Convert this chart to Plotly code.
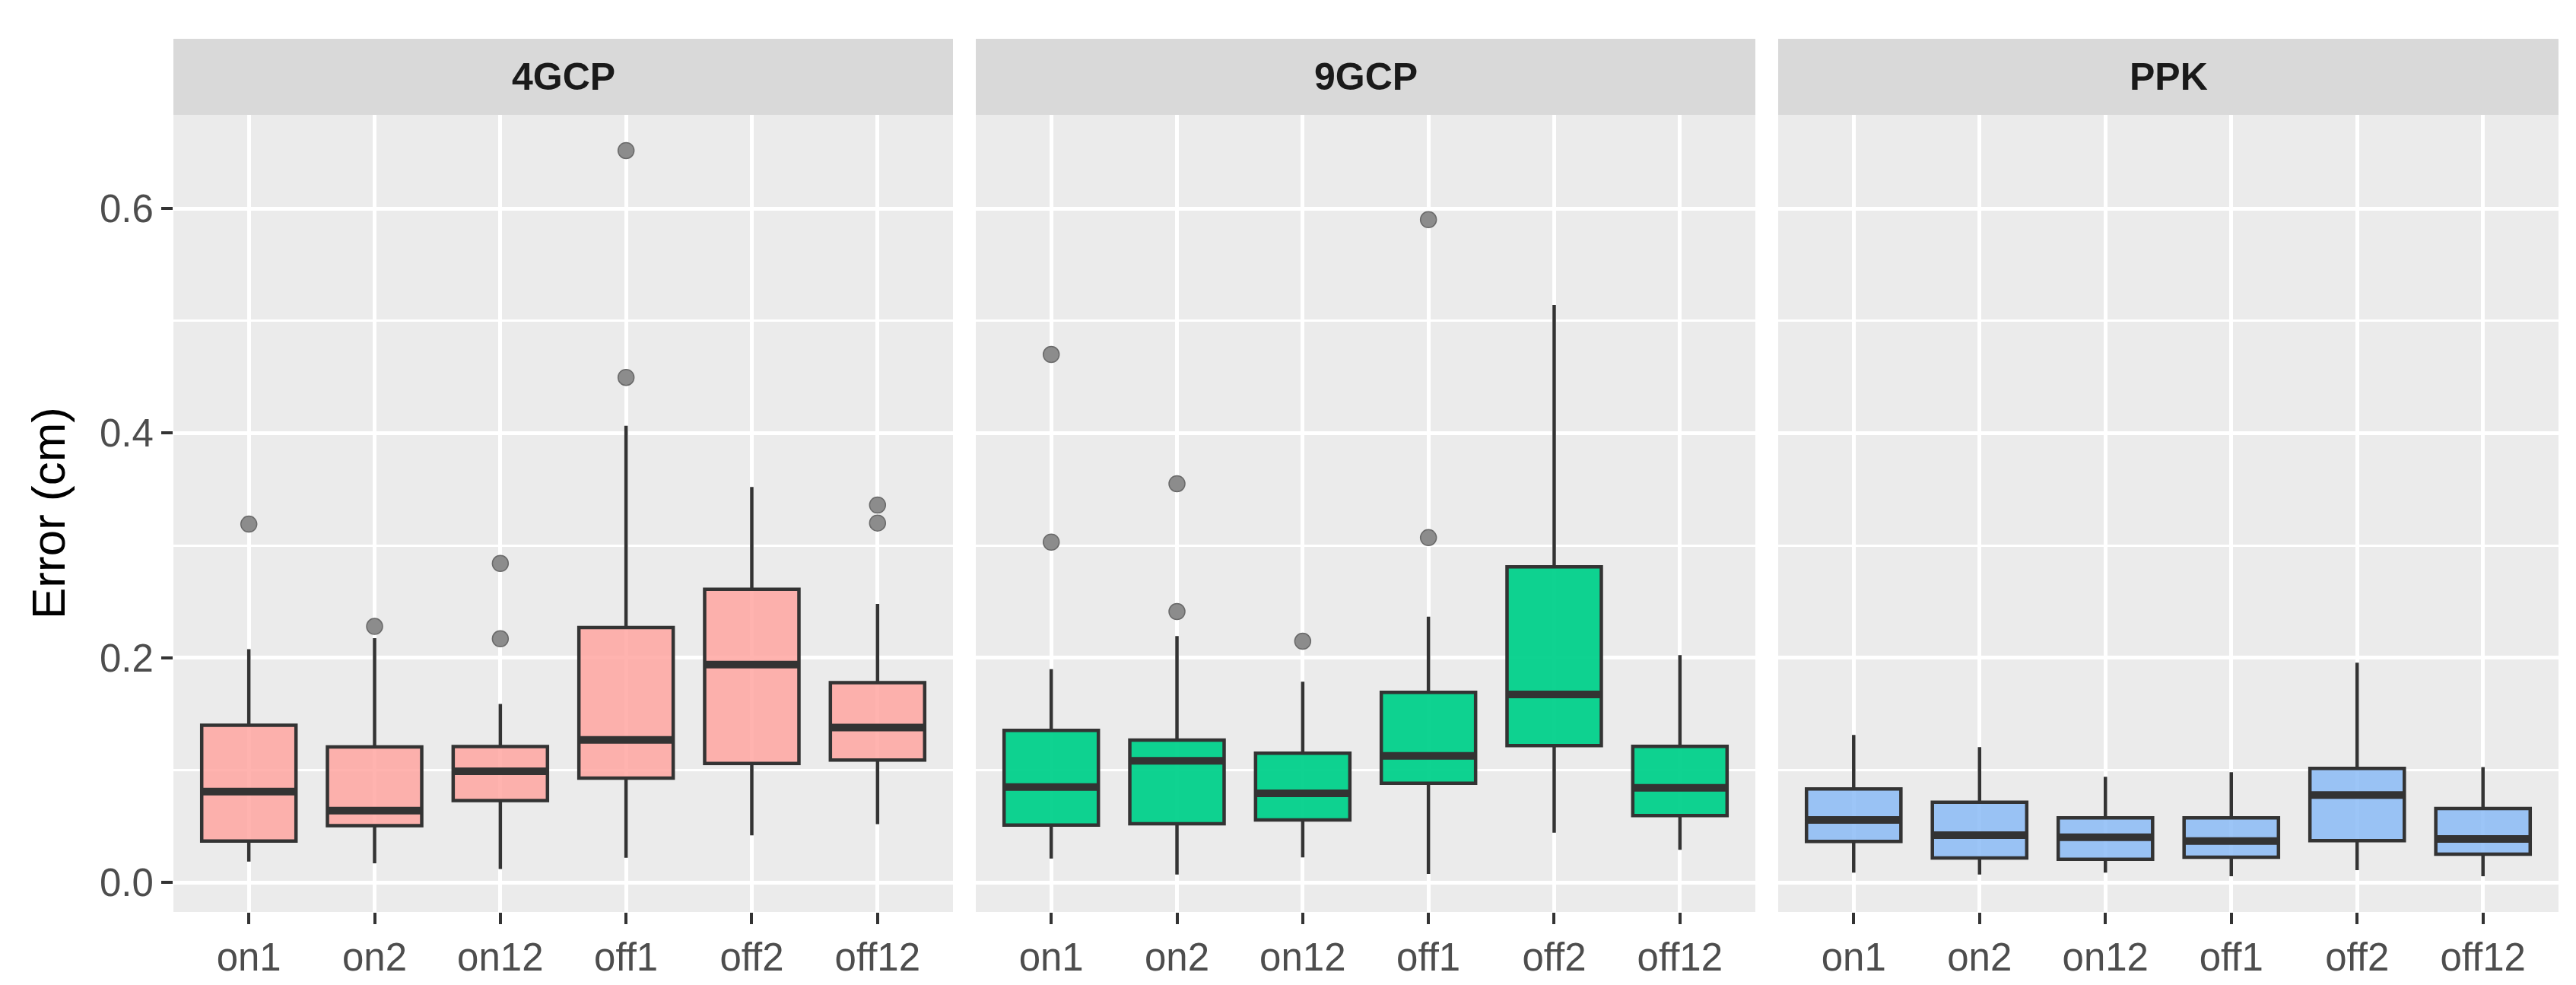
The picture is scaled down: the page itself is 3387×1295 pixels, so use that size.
import plotly.graph_objects as go

# ---------------- data ----------------
categories = ["on1", "on2", "on12", "off1", "off2", "off12"]
panels = ["4GCP", "9GCP", "PPK"]

# 4GCP
q1_4gcp = [0.037, 0.0506, 0.073, 0.093, 0.106, 0.109]
med_4gcp = [0.081, 0.064, 0.099, 0.127, 0.194, 0.138]
q3_4gcp = [0.140, 0.1207, 0.121, 0.227, 0.261, 0.178]
lo_4gcp = [0.0187, 0.0172, 0.012, 0.022, 0.042, 0.052]
hi_4gcp = [0.2077, 0.2176, 0.159, 0.4066, 0.352, 0.248]
out_x_4gcp = ["on1", "on2", "on12", "on12", "off1", "off1", "off12", "off12"]
out_y_4gcp = [0.319, 0.228, 0.284, 0.217, 0.6515, 0.4496, 0.336, 0.320]

# 9GCP
q1_9gcp = [0.0512, 0.0523, 0.0557, 0.0884, 0.1219, 0.0596]
med_9gcp = [0.085, 0.1083, 0.0794, 0.1128, 0.1674, 0.0844]
q3_9gcp = [0.1354, 0.1268, 0.1151, 0.1693, 0.281, 0.1212]
lo_9gcp = [0.0214, 0.0072, 0.0223, 0.0076, 0.0444, 0.0291]
hi_9gcp = [0.190, 0.2193, 0.1787, 0.2367, 0.514, 0.2024]
out_x_9gcp = ["on1", "on1", "on2", "on2", "on12", "off1", "off1"]
out_y_9gcp = [0.470, 0.303, 0.355, 0.2412, 0.2148, 0.590, 0.307]

# PPK
q1_ppk = [0.0366, 0.0219, 0.0207, 0.0225, 0.0372, 0.0253]
med_ppk = [0.0557, 0.0422, 0.0404, 0.037, 0.0779, 0.0388]
q3_ppk = [0.0833, 0.0715, 0.0575, 0.0575, 0.1016, 0.0659]
lo_ppk = [0.0088, 0.0072, 0.0088, 0.0056, 0.011, 0.0056]
hi_ppk = [0.1313, 0.1205, 0.0941, 0.0982, 0.1957, 0.1027]
out_x_ppk = []
out_y_ppk = []

fills = ["rgba(255,166,161,0.85)", "rgba(0,208,138,0.94)", "rgba(139,187,246,0.85)"]

y_title = "Error (cm)"
y_ticks = [0.0, 0.2, 0.4, 0.6]

# ---------------- figure ----------------
W, H = 3387, 1295
ML, MR, MT, MB = 220, 31, 143, 104
PW = W - ML - MR
PH = H - MT - MB
panel_px = [(220, 1245), (1275, 2300), (2330, 3356)]
domains = [[(a - ML) / PW, (b - ML) / PW] for a, b in panel_px]
domains[-1][1] = 1.0

FONT = "Liberation Sans, Arial, sans-serif"
EDGE = "#333333"

data_sets = [
    (q1_4gcp, med_4gcp, q3_4gcp, lo_4gcp, hi_4gcp, out_x_4gcp, out_y_4gcp),
    (q1_9gcp, med_9gcp, q3_9gcp, lo_9gcp, hi_9gcp, out_x_9gcp, out_y_9gcp),
    (q1_ppk, med_ppk, q3_ppk, lo_ppk, hi_ppk, out_x_ppk, out_y_ppk),
]

fig = go.Figure()
for i, (q1, med, q3, lo, hi, ox, oy) in enumerate(data_sets):
    xa = "x" if i == 0 else f"x{i+1}"
    ya = "y" if i == 0 else f"y{i+1}"
    fig.add_trace(go.Box(
        x=categories, q1=q1, median=med, q3=q3, lowerfence=lo, upperfence=hi,
        boxpoints=False, width=0.75, fillcolor=fills[i],
        line=dict(color=EDGE, width=4.5), whiskerwidth=0,
        xaxis=xa, yaxis=ya, showlegend=False, hoverinfo="skip"))
    # thicker median line (ggplot fatten)
    fig.add_trace(go.Box(
        x=categories, q1=med, median=med, q3=med, lowerfence=med, upperfence=med,
        boxpoints=False, width=0.75, fillcolor="rgba(0,0,0,0)",
        line=dict(color=EDGE, width=10), whiskerwidth=0,
        xaxis=xa, yaxis=ya, showlegend=False, hoverinfo="skip"))
    if ox:
        fig.add_trace(go.Scatter(
            x=ox, y=oy, mode="markers",
            marker=dict(size=21, color="#8C8C8C", line=dict(color="#6A6A6A", width=1.5)),
            xaxis=xa, yaxis=ya, showlegend=False, hoverinfo="skip"))

y_range = [-0.0262, 0.6833]
layout = dict(
    width=W, height=H,
    margin=dict(l=ML, r=MR, t=MT, b=MB),
    paper_bgcolor="white", plot_bgcolor="#EBEBEB",
    font=dict(family=FONT, size=50, color="#4D4D4D"),
    showlegend=False,
)
shapes = []
annotations = []
for i in range(3):
    xk = "xaxis" if i == 0 else f"xaxis{i+1}"
    yk = "yaxis" if i == 0 else f"yaxis{i+1}"
    layout[xk] = dict(
        domain=domains[i], anchor="y" if i == 0 else f"y{i+1}",
        type="category", categoryorder="array", categoryarray=categories,
        range=[-0.6, 5.6], showgrid=True, gridcolor="white", gridwidth=5,
        zeroline=False, showline=False, ticks="outside", ticklen=15,
        tickwidth=4, tickcolor=EDGE,
        tickfont=dict(family=FONT, size=51, color="#4D4D4D"), fixedrange=True)
    ydict = dict(
        domain=[0, 1], anchor="x" if i == 0 else f"x{i+1}",
        range=y_range, tickvals=y_ticks, ticktext=[f"{v:.1f}" for v in y_ticks],
        showgrid=True, gridcolor="white", gridwidth=5, zeroline=False,
        showline=False,
        minor=dict(tickvals=[0.1, 0.3, 0.5], showgrid=True, gridcolor="white",
                   gridwidth=2.5, ticks=""),
        fixedrange=True)
    if i == 0:
        ydict.update(ticks="outside", ticklen=15, tickwidth=4, tickcolor=EDGE,
                     tickfont=dict(family=FONT, size=51, color="#4D4D4D"))
    else:
        ydict.update(matches="y", showticklabels=False, ticks="")
    layout[yk] = ydict
    # strip
    shapes.append(dict(type="rect", xref="paper", yref="paper",
                       x0=domains[i][0], x1=domains[i][1],
                       y0=1.0, y1=1.0 + 100 / PH,
                       fillcolor="#D9D9D9", line=dict(width=0), layer="below"))
    annotations.append(dict(text=f"<b>{panels[i]}</b>", xref="paper", yref="paper",
                            x=(domains[i][0] + domains[i][1]) / 2, y=1.0 + 50 / PH,
                            xanchor="center", yanchor="middle", showarrow=False,
                            font=dict(family=FONT, size=50, color="#1A1A1A")))

annotations.append(dict(text=y_title, xref="paper", yref="paper",
                        x=-(ML - 55) / PW, y=0.5, xanchor="center", yanchor="middle",
                        textangle=-90, showarrow=False,
                        font=dict(family=FONT, size=62, color="black")))
layout["shapes"] = shapes
layout["annotations"] = annotations
fig.update_layout(**layout)

fig.write_html("out.html")
